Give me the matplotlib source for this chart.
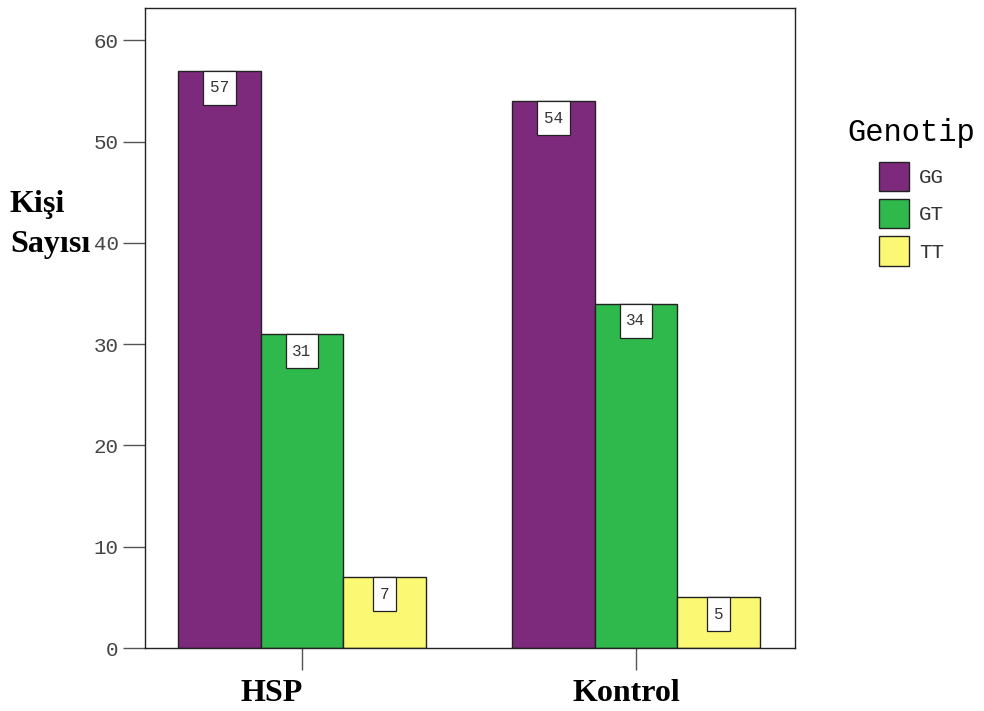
import matplotlib.pyplot as plt
import matplotlib.transforms as mtransforms
from matplotlib.patches import Rectangle
import numpy as np

gruplar = ['HSP', 'Kontrol']
genotipler = ['GG', 'GT', 'TT']
sayilar = {
    'GG': [57, 54],
    'GT': [31, 34],
    'TT': [7, 5],
}
renkler = ['#7d2a7c', '#2fb84b', '#fbf874']

mono = 'Liberation Mono'
serif = 'Liberation Serif'

fig = plt.figure(figsize=(9.84, 7.11), dpi=100)
ax = fig.add_axes([145 / 984, 1 - 648 / 711, 650 / 984, 640 / 711])

x = np.arange(len(gruplar))
genislik = 0.247
etiket_boyu = 11.5
for i, (g, renk) in enumerate(zip(genotipler, renkler)):
    konum = x + (i - 1) * genislik
    ax.bar(konum, sayilar[g], genislik, color=renk, edgecolor='#222222', linewidth=1, label=g)
    for xx, v in zip(konum, sayilar[g]):
        # white label box hanging from the top of the bar (sizes in inches)
        tr = fig.dpi_scale_trans + mtransforms.ScaledTranslation(xx, v, ax.transData)
        w = (len(str(v)) * 0.6 * etiket_boyu / 72 * 100 + 13) / 100
        h = 0.34
        ax.add_patch(Rectangle((-w / 2, -h), w, h, transform=tr, fc='white',
                               ec='#222222', lw=0.9, zorder=3))
        ax.text(0, -h / 2, str(v), transform=tr, ha='center', va='center',
                fontsize=etiket_boyu, family=mono, color='#333333', zorder=4)

ax.set_xlim(-0.470, 1.476)
ax.set_ylim(0, 63.2)
ax.set_yticks(range(0, 61, 10))
ax.set_xticks(x)
ax.set_xticklabels([])
# group names sit a little left of their ticks in the original
for xi, ad, dx in zip(x, gruplar, [-30, -10]):
    ax.annotate(ad, (xi, 0), xycoords=ax.get_xaxis_transform(), xytext=(dx * 0.72, -33),
                textcoords='offset points', ha='center', va='center', family=serif,
                fontweight='bold', fontsize=23, annotation_clip=False)
for lab in ax.get_yticklabels():
    lab.set_family(mono)
    lab.set_fontsize(15)
    lab.set_color('#444444')
ax.tick_params(axis='y', length=16, width=1, color='#555555', pad=3)
ax.tick_params(axis='x', length=16, width=1, color='#555555', pad=8)
for s in ax.spines.values():
    s.set_linewidth(1)
    s.set_color('#222222')

fig.text(10 / 984, 1 - 224 / 711, 'Kişi\nSayısı', family=serif, fontweight='bold',
         fontsize=23, ha='left', va='center', linespacing=1.5)

leg = fig.legend(loc='upper left', bbox_to_anchor=(829 / 984, 1 - 99 / 711), frameon=False,
                 title='Genotip', prop={'family': mono, 'size': 15},
                 handlelength=1.4, handleheight=1.77, labelspacing=0.4, handletextpad=0.5)
leg.get_title().set_family(mono)
leg.get_title().set_fontsize(22)
leg._legend_box.sep = 10
for t in leg.get_texts():
    t.set_color('#333333')

fig.savefig('out.png', dpi=100)
